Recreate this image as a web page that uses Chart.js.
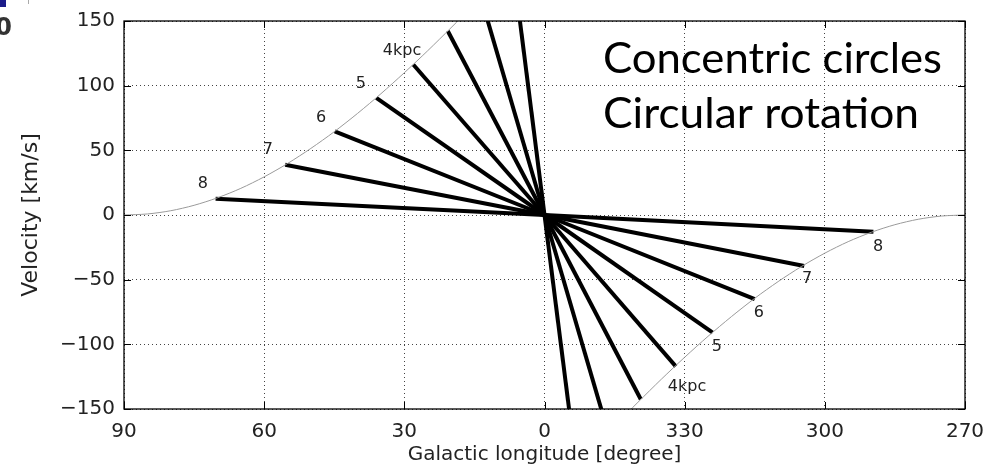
<!DOCTYPE html>
<html>
<head>
<meta charset="utf-8">
<script src="https://cdn.jsdelivr.net/npm/chart.js@4.4.1/dist/chart.umd.min.js"></script>
<style>
html, body { margin: 0; padding: 0; background: #fff; }
</style>
</head>
<body>
<canvas id="canvas" width="1005" height="471"></canvas>
<script>
// tangent points of the rings, first quadrant (deg, km/s)
var tangentLonN = [70.4, 55.5, 44.9, 36.0, 28.1, 20.7, 13.6, 6.8];
var tangentVelN = [12.6, 38.8, 64.6, 90.5, 116.4, 142.3, 168, 194];
// fourth quadrant, longitude kept as l - 360
var tangentLonS = [-70.4, -55.6, -45.0, -36.0, -28.1, -20.6, -13.6, -6.8];
var tangentVelS = [-13.0, -39.5, -65.0, -91.0, -117.0, -142.5, -168, -194];

// terminal velocity envelope
var envLonN = [90, 85, 80, 75, 70, 65, 60, 55, 50, 45, 40, 35, 30, 25, 20, 15, 10];
var envVelN = [0, 0.8, 3.3, 7.5, 13.3, 20.6, 29.5, 39.8, 51.5, 64.4, 78.6, 93.8, 110, 127, 144.8, 163, 182];
var envLonS = [-90, -85, -80, -75, -70, -65, -60, -55, -50, -45, -40, -35, -30, -25, -20, -15, -10];
var envVelS = [0, -0.8, -3.3, -7.5, -13.3, -20.6, -29.5, -39.8, -51.5, -64.4, -78.6, -93.8, -110, -127, -144.8, -163, -182];

// ring names and where they are written
var ringNames = ['8', '7', '6', '5', '4kpc'];
var labelLonN = [73.1, 59.2, 47.8, 39.3, 30.5];
var labelVelN = [23.8, 50.0, 75.4, 101.5, 126.9];
var labelLonS = [-71.4, -56.2, -45.9, -36.9, -30.5];
var labelVelS = [-24.6, -49.2, -75.4, -102.3, -133.0];

var xTicks = [90, 60, 30, 0, -30, -60, -90];
var yTicks = [150, 100, 50, 0, -50, -100, -150];

function pairs(xs, ys) {
    var out = [];
    for (var i = 0; i < xs.length; i++) out.push({x: xs[i], y: ys[i]});
    return out;
}

function spoke(lon, vel) {
    return {
        data: [{x: 0, y: 0}, {x: lon, y: vel}],
        showLine: true,
        borderColor: '#000',
        borderWidth: 4,
        pointRadius: 0,
        clip: 0
    };
}

var datasets = [];
[[envLonN, envVelN], [envLonS, envVelS]].forEach(function(e) {
    datasets.push({
        data: pairs(e[0], e[1]),
        showLine: true,
        borderColor: '#9a9a9a',
        borderWidth: 1,
        pointRadius: 0,
        tension: 0.3,
        clip: 0
    });
});
for (var i = 0; i < tangentLonN.length; i++) datasets.push(spoke(tangentLonN[i], tangentVelN[i]));
for (var i = 0; i < tangentLonS.length; i++) datasets.push(spoke(tangentLonS[i], tangentVelS[i]));

// caption text, stretched to the width of the text box
function caption(ctx, text, x, y, width) {
    var w = ctx.measureText(text).width;
    ctx.save();
    ctx.translate(x, y);
    ctx.scale(width / w, 1);
    ctx.fillText(text, 0, 0);
    ctx.restore();
}

var overlay = {
    id: 'overlay',
    afterDraw: function(chart) {
        var ctx = chart.ctx, a = chart.chartArea,
            sx = chart.scales.x, sy = chart.scales.y;
        ctx.save();

        // box round the plot
        ctx.strokeStyle = '#000';
        ctx.lineWidth = 1.3;
        ctx.strokeRect(a.left, a.top, a.right - a.left, a.bottom - a.top);

        // matplotlib style ticks, pointing in
        ctx.lineWidth = 1;
        ctx.beginPath();
        xTicks.forEach(function(t) {
            var px = Math.round(sx.getPixelForValue(t)) + 0.5;
            ctx.moveTo(px, a.bottom); ctx.lineTo(px, a.bottom - 7);
            ctx.moveTo(px, a.top); ctx.lineTo(px, a.top + 7);
        });
        yTicks.forEach(function(t) {
            var py = Math.round(sy.getPixelForValue(t)) + 0.5;
            ctx.moveTo(a.left, py); ctx.lineTo(a.left + 7, py);
            ctx.moveTo(a.right, py); ctx.lineTo(a.right - 7, py);
        });
        ctx.stroke();

        // ring names
        ctx.fillStyle = '#222';
        ctx.font = '16px "DejaVu Sans"';
        ctx.textAlign = 'center';
        ctx.textBaseline = 'middle';
        for (var i = 0; i < ringNames.length; i++) {
            ctx.fillText(ringNames[i], sx.getPixelForValue(labelLonN[i]), sy.getPixelForValue(labelVelN[i]));
            ctx.fillText(ringNames[i], sx.getPixelForValue(labelLonS[i]), sy.getPixelForValue(labelVelS[i]));
        }

        // caption
        ctx.fillStyle = '#000';
        ctx.font = '42px Lato';
        ctx.textAlign = 'left';
        ctx.textBaseline = 'alphabetic';
        caption(ctx, 'Concentric circles', 603, 73, 339);
        caption(ctx, 'Circular rotation', 603, 128, 316);

        // bits of the slide at the corner
        ctx.fillStyle = '#1c1c8a';
        ctx.fillRect(0, 0, 6, 7);
        ctx.fillStyle = '#aaa';
        ctx.fillRect(28, 0, 1, 4);
        ctx.fillStyle = '#333';
        ctx.font = 'bold 24px "DejaVu Sans"';
        ctx.textAlign = 'right';
        ctx.fillText('0', 12, 35);

        ctx.restore();
    }
};

var ctx = document.getElementById('canvas').getContext('2d');
Chart.defaults.font.family = '"DejaVu Sans"';
Chart.defaults.color = '#222';

new Chart(ctx, {
    type: 'scatter',
    data: {datasets: datasets},
    options: {
        responsive: false,
        animation: false,
        layout: {padding: {left: 0, right: 40, top: 19, bottom: 0}},
        plugins: {legend: {display: false}, tooltip: {enabled: false}},
        scales: {
            x: {
                type: 'linear',
                min: -90,
                max: 90,
                reverse: true,
                afterBuildTicks: function(scale) {
                    scale.ticks = xTicks.map(function(v) { return {value: v}; });
                },
                afterFit: function(scale) { scale.height = 62; },
                ticks: {
                    font: {size: 20},
                    padding: 11,
                    maxRotation: 0,
                    callback: function(v) { return v < 0 ? v + 360 : v; }
                },
                grid: {color: '#444', lineWidth: 1, drawTicks: false},
                border: {display: false, dash: [1, 3]},
                title: {display: true, text: 'Galactic longitude [degree]', font: {size: 20}, padding: {top: 0, bottom: 4}}
            },
            y: {
                type: 'linear',
                min: -150,
                max: 150,
                afterBuildTicks: function(scale) {
                    scale.ticks = yTicks.map(function(v) { return {value: v}; });
                },
                afterFit: function(scale) { scale.width = 124; },
                ticks: {
                    font: {size: 20},
                    padding: 9,
                    callback: function(v) { return v < 0 ? '\u2212' + Math.abs(v) : v; }
                },
                grid: {color: '#444', lineWidth: 1, drawTicks: false},
                border: {display: false, dash: [1, 3]},
                title: {display: true, text: 'Velocity [km/s]', font: {size: 22}, padding: {top: 18, bottom: 0}}
            }
        }
    },
    plugins: [overlay]
});
</script>
</body>
</html>
